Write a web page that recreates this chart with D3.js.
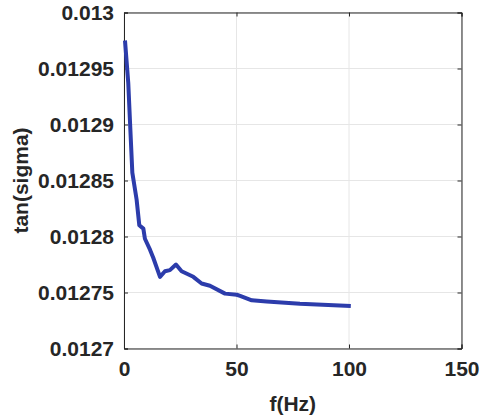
<!DOCTYPE html>
<html><head><meta charset="utf-8">
<script src="https://cdn.jsdelivr.net/npm/d3@7"></script>
<style>body{margin:0;background:#fff}svg{display:block}text{font-family:"Liberation Sans",Arial,sans-serif;font-weight:bold;fill:#262626}</style>
</head><body>
<svg id="c" width="482" height="419"></svg>
<script>
const freq = [0.44,1.9,2.7,3.7,5.6,6.8,8.6,9.3,11.6,13,16,18.2,20.4,23.1,25.6,30.8,34.5,38.2,44.9,50.1,51.6,56.8,63.4,78.2,100.8];
const tanSigma = [0.012975,0.012937,0.012901,0.012857,0.012833,0.012810,0.012807,0.012798,0.012788,0.012781,0.012764,0.012769,0.012770,0.012775,0.012769,0.012764,0.012758,0.012756,0.012749,0.012748,0.012747,0.012743,0.012742,0.012740,0.012738];
const xTicks = [0,50,100,150];
const yTicks = [0.0127,0.01275,0.0128,0.01285,0.0129,0.01295,0.013];
const yTickLabels = ["0.0127","0.01275","0.0128","0.01285","0.0129","0.01295","0.013"];

const L=124,R=461.5,T=12.5,B=348.5;
const svg=d3.select("#c");
const x=d3.scaleLinear().domain([0,150]).range([L,R]);
const y=d3.scaleLinear().domain([0.0127,0.013]).range([B,T]);

// grid
svg.append("g").selectAll("line").data(xTicks).join("line")
 .attr("x1",d=>x(d)).attr("x2",d=>x(d)).attr("y1",T).attr("y2",B)
 .attr("stroke","#e6e6e6").attr("stroke-width",1);
svg.append("g").selectAll("line").data(yTicks).join("line")
 .attr("y1",d=>y(d)).attr("y2",d=>y(d)).attr("x1",L).attr("x2",R)
 .attr("stroke","#e6e6e6").attr("stroke-width",1);

// axes
const ax=svg.append("g").attr("transform",`translate(0,${B})`)
 .call(d3.axisBottom(x).tickValues(xTicks).tickSize(-4).tickPadding(13).tickFormat(d3.format("d")));
const ay=svg.append("g").attr("transform",`translate(${L},0)`)
 .call(d3.axisLeft(y).tickValues(yTicks).tickSize(-4).tickPadding(10).tickFormat((d,i)=>yTickLabels[i]));
const at=svg.append("g").attr("transform",`translate(0,${T})`)
 .call(d3.axisTop(x).tickValues(xTicks).tickSize(-4).tickFormat(""));
const ar=svg.append("g").attr("transform",`translate(${R},0)`)
 .call(d3.axisRight(y).tickValues(yTicks).tickSize(-4).tickFormat(""));
[ax,ay,at,ar].forEach(g=>{
  g.selectAll("path").attr("stroke","#262626").attr("stroke-width",1);
  g.selectAll("line").attr("stroke","#262626");
  g.selectAll("text").attr("font-size",21).attr("font-family","Liberation Sans, Arial, sans-serif").attr("font-weight","bold").attr("fill","#262626");
});

// line
svg.append("path").datum(freq.map((f,i)=>[f,tanSigma[i]]))
 .attr("fill","none").attr("stroke","#2c3cab").attr("stroke-width",4).attr("stroke-linejoin","round")
 .attr("d",d3.line().x(d=>x(d[0])).y(d=>y(d[1])));

// labels
svg.append("text").attr("x",(L+R)/2).attr("y",411).attr("text-anchor","middle").attr("font-size",21).text("f(Hz)");
svg.append("text").attr("transform",`translate(28,${(T+B)/2}) rotate(-90)`).attr("text-anchor","middle").attr("font-size",21).text("tan(sigma)");
</script>
</body></html>
